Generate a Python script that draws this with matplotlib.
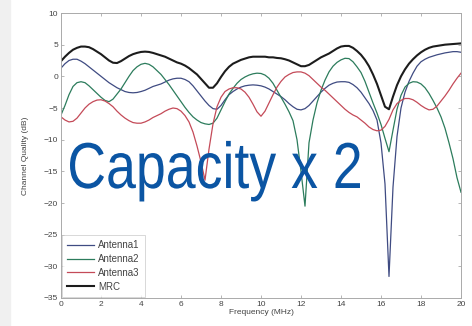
import numpy as np
import matplotlib
matplotlib.use('Agg')
import matplotlib.pyplot as plt
from matplotlib.patches import Rectangle, PathPatch
from matplotlib.textpath import TextPath
from matplotlib.font_manager import FontProperties
from matplotlib.transforms import Affine2D

plt.rcParams['font.family'] = ['Liberation Sans', 'DejaVu Sans']

# Frequency grid (MHz), 0.2 MHz step
freq = np.round(np.arange(0, 20.01, 0.2), 1)

# Channel quality (dB)
antenna1 = [1.3, 2.0, 2.5, 2.7, 2.7, 2.4, 2.0, 1.5, 1.0, 0.5,
            0.0, -0.5, -1.0, -1.4, -1.8, -2.1, -2.4, -2.55, -2.6, -2.55,
            -2.4, -2.2, -1.9, -1.6, -1.4, -1.2, -0.9, -0.6, -0.4, -0.3,
            -0.3, -0.5, -0.85, -1.5, -2.3, -3.1, -3.9, -4.6, -5.1, -5.2,
            -4.6, -3.7, -2.9, -2.4, -2.0, -1.7, -1.5, -1.4, -1.35, -1.4,
            -1.5, -1.7, -2.0, -2.4, -2.8, -3.2, -3.7, -4.3, -4.8, -5.2,
            -5.3, -5.1, -4.6, -3.9, -3.2, -2.5, -1.9, -1.4, -1.1, -0.9,
            -0.85, -0.85, -0.95, -1.3, -1.8, -2.5, -3.4, -4.3, -5.4, -6.9,
            -10.5, -17.0, -31.6, -17.5, -9.5, -5.0, -2.5, -0.8, 0.5, 1.6,
            2.3, 2.7, 3.0, 3.2, 3.4, 3.55, 3.7, 3.8, 3.9, 3.9,
            3.8]
antenna2 = [-6.1, -4.6, -2.9, -1.6, -1.0, -0.85, -1.0, -1.5, -2.1, -2.7,
            -3.3, -3.8, -4.0, -3.6, -2.8, -2.0, -1.0, 0.0, 0.9, 1.5,
            1.9, 2.05, 1.9, 1.5, 0.9, 0.3, -0.5, -1.3, -2.2, -3.1,
            -4.0, -4.9, -5.7, -6.4, -6.9, -7.3, -7.5, -7.6, -7.4, -6.6,
            -5.3, -4.0, -2.8, -1.9, -1.1, -0.5, -0.1, 0.2, 0.4, 0.5,
            0.45, 0.2, -0.3, -1.1, -2.2, -3.3, -4.4, -5.6, -7.0, -10.0,
            -15.0, -20.5, -10.5, -6.9, -4.2, -2.2, -0.6, 0.7, 1.6, 2.2,
            2.6, 2.85, 2.8, 2.3, 1.5, 0.6, -0.8, -2.5, -4.2, -5.8,
            -7.6, -9.8, -11.9, -8.5, -5.2, -3.0, -1.7, -1.1, -0.85, -0.9,
            -1.2, -1.8, -2.7, -3.8, -5.0, -6.4, -8.2, -10.5, -13.0, -16.0,
            -18.3]
antenna3 = [-6.4, -6.9, -7.2, -7.1, -6.6, -5.8, -5.0, -4.4, -4.0, -3.75,
            -3.7, -3.9, -4.3, -4.8, -5.5, -6.1, -6.6, -7.0, -7.3, -7.4,
            -7.4, -7.2, -6.9, -6.5, -6.2, -5.9, -5.5, -5.2, -5.0, -5.1,
            -5.5, -6.2, -7.2, -8.8, -11.0, -13.5, -16.4, -11.5, -7.5, -4.8,
            -3.3, -2.4, -2.0, -1.8, -1.8, -2.0, -2.5, -3.3, -4.4, -5.6,
            -6.3, -5.5, -4.2, -2.9, -1.7, -0.8, -0.1, 0.3, 0.6, 0.7,
            0.7, 0.5, 0.1, -0.5, -1.1, -1.7, -2.2, -2.8, -3.4, -4.0,
            -4.6, -5.2, -5.7, -6.1, -6.4, -6.9, -7.4, -8.0, -8.4, -8.6,
            -8.5, -7.9, -6.8, -5.3, -4.3, -3.8, -3.5, -3.5, -3.7, -4.1,
            -4.6, -5.0, -5.3, -5.2, -4.7, -3.9, -3.1, -2.2, -1.2, -0.3,
            0.5]
mrc = [2.4, 3.1, 3.7, 4.2, 4.5, 4.7, 4.7, 4.6, 4.3, 3.9,
       3.5, 3.0, 2.5, 2.15, 2.1, 2.4, 2.8, 3.2, 3.5, 3.7,
       3.85, 3.9, 3.85, 3.7, 3.5, 3.3, 3.1, 2.8, 2.5, 2.2,
       2.0, 1.7, 1.3, 0.8, 0.3, -0.4, -1.1, -1.8, -1.8, -1.1,
       -0.1, 0.8, 1.5, 2.0, 2.3, 2.6, 2.8, 3.0, 3.1, 3.1,
       3.1, 3.1, 3.0, 3.0, 2.9, 2.85, 2.7, 2.5, 2.2, 1.9,
       1.6, 1.6, 1.8, 2.2, 2.6, 3.0, 3.3, 3.6, 4.0, 4.4,
       4.7, 4.8, 4.8, 4.5, 4.0, 3.4, 2.6, 1.6, 0.3, -1.2,
       -3.0, -4.8, -5.2, -3.2, -1.4, 0.0, 1.1, 2.0, 2.7, 3.3,
       3.8, 4.2, 4.5, 4.7, 4.8, 4.9, 5.0, 5.05, 5.1, 5.15,
       5.2]

labels = ['Antenna1', 'Antenna2', 'Antenna3', 'MRC']
x_ticks = [0, 2, 4, 6, 8, 10, 12, 14, 16, 18, 20]
y_ticks = [10, 5, 0, -5, -10, -15, -20, -25, -30, -35]

W, H = 472, 326
fig = plt.figure(figsize=(W / 100, H / 100), dpi=100)
fig.patches.append(Rectangle((0, 0), 10 / W, 1, transform=fig.transFigure,
                             color='#f0f0f0', zorder=0))

ax = fig.add_axes([61 / W, 1 - 298 / H, 400 / W, 285 / H])
ax.plot(freq, antenna1, color='#3f4b82', lw=0.9, label=labels[0])
ax.plot(freq, antenna2, color='#2c7c5c', lw=0.9, label=labels[1])
ax.plot(freq, antenna3, color='#c44a58', lw=0.9, label=labels[2])
ax.plot(freq, mrc, color='#1c1c1c', lw=1.5, label=labels[3])

ax.set_xlim(0, 20)
ax.set_ylim(-35, 10)
ax.set_xticks(x_ticks)
ax.set_yticks(y_ticks)
ax.tick_params(direction='in', length=2.5, width=0.5, color='#999999',
               labelsize=6, labelcolor='#444444', top=True, right=True, pad=2)
for s in ax.spines.values():
    s.set_color('#aaaaaa')
    s.set_linewidth(0.7)

ax.set_xlabel('Frequency (MHz)', fontsize=6, color='#444444', labelpad=1)
ax.set_ylabel('Channel Quality (dB)', fontsize=6, color='#444444', labelpad=11)

leg = ax.legend(loc='lower left', fontsize=7, frameon=True, fancybox=False,
                labelspacing=0.4, handlelength=2.7, handletextpad=0.5,
                borderpad=0.5, borderaxespad=0.15)
leg.get_frame().set_edgecolor('#bbbbbb')
leg.get_frame().set_linewidth(0.5)
for t in leg.get_texts():
    t.set_color('#444444')

# big overlay caption, horizontally squeezed like the picture
tp = TextPath((0, 0), 'Capacity x 2', size=1,
              prop=FontProperties(family='Liberation Sans'))
ext = tp.get_extents()
em = 65
sx = 290 / ext.width
trans = Affine2D().scale(sx, em).translate(70 - ext.x0 * sx, H - 188)
fig.add_artist(PathPatch(tp, transform=trans, facecolor='#0b55a3',
                         edgecolor='none', zorder=10))

plt.savefig('out.png', dpi=100)
